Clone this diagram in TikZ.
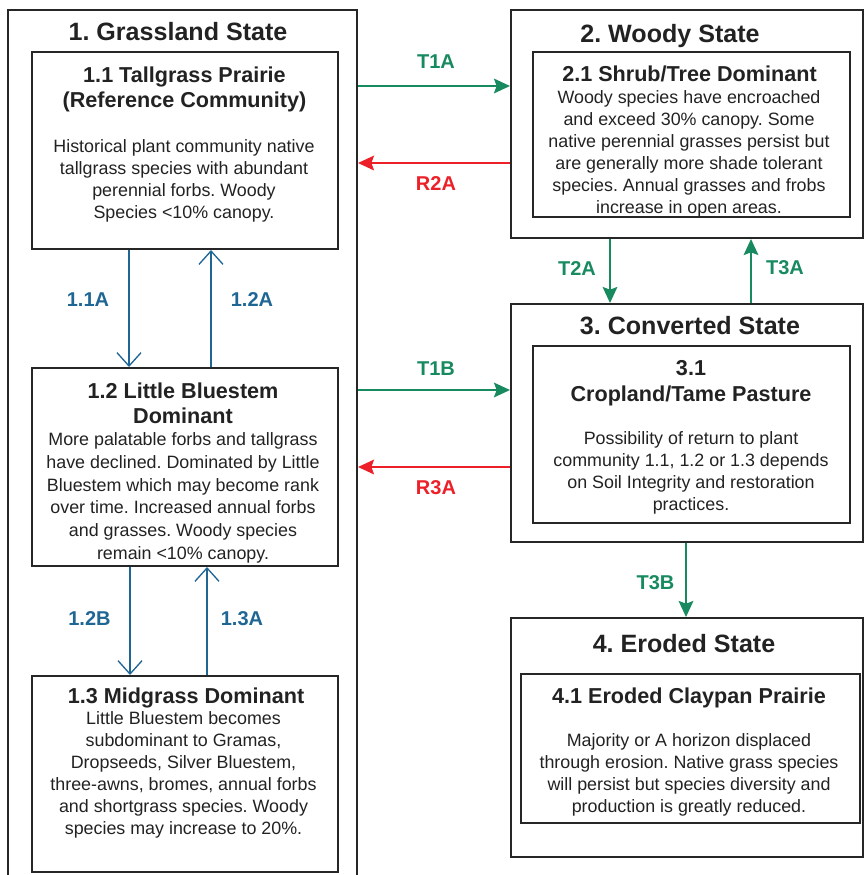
\documentclass[tikz,border=0pt]{standalone}
\usepackage{fontspec}
\setmainfont{Liberation Sans}
\usetikzlibrary{arrows.meta}
\frenchspacing

\definecolor{boxline}{RGB}{38,38,38}
\definecolor{ink}{RGB}{34,34,34}
\definecolor{trgreen}{RGB}{24,138,96}
\definecolor{rsred}{RGB}{236,32,40}
\definecolor{pwblue}{RGB}{31,102,148}

\begin{document}
\begin{tikzpicture}[x=0.75pt, y=-0.75pt,
    statebox/.style={draw=boxline, line width=1.5pt, inner sep=0pt},
    commbox/.style={draw=boxline, line width=1.5pt, inner sep=0pt},
    statetitle/.style={anchor=north, inner sep=0pt, text=ink, font=\bfseries\fontsize{18.8}{22}\selectfont},
    commhead/.style={anchor=north, inner sep=0pt, align=center, text=ink, font=\bfseries\fontsize{16.2}{19}\selectfont},
    commtext/.style={anchor=north, inner sep=0pt, align=center, text=ink, font=\fontsize{13.4}{16.5}\selectfont},
    tarrow/.style={draw=trgreen, line width=1.5pt, -{Stealth[length=12pt, width=11pt, inset=2pt]}},
    rarrow/.style={draw=rsred, line width=1.5pt, -{Stealth[length=12pt, width=11pt, inset=2pt]}},
    parrow/.style={draw=pwblue, line width=1pt, -{Straight Barb[length=10pt, width=18pt]}},
    tlabel/.style={text=trgreen, font=\bfseries\fontsize{15}{18}\selectfont},
    rlabel/.style={text=rsred, font=\bfseries\fontsize{15}{18}\selectfont},
    plabel/.style={text=pwblue, font=\bfseries\fontsize{15}{18}\selectfont}]
  \useasboundingbox (0,0) rectangle (865,875);

  % states
  \node[statebox, minimum width=261.75pt, minimum height=660pt] (s1) at (182.5,450) {};
  \node[statebox, minimum width=264pt, minimum height=171pt] (s2) at (687,124) {};
  \node[statebox, minimum width=264pt, minimum height=178.5pt] (s3) at (687,423) {};
  \node[statebox, minimum width=264pt, minimum height=179.25pt] (s4) at (687,737.5) {};

  % communities
  \node[commbox, minimum width=229.5pt, minimum height=147.75pt] (c11) at (185,150.5) {};
  \node[commbox, minimum width=229.5pt, minimum height=148.5pt] (c12) at (185,467) {};
  \node[commbox, minimum width=229.5pt, minimum height=147pt] (c13) at (185,774) {};
  \node[commbox, minimum width=237.75pt, minimum height=123.75pt] (c21) at (691.5,134.5) {};
  \node[commbox, minimum width=237.75pt, minimum height=132.75pt] (c31) at (691.5,434.5) {};
  \node[commbox, minimum width=254.25pt, minimum height=111.75pt] (c41) at (690.5,748.5) {};

  \node[statetitle] (t1) at (178,22.5) {1. Grassland State};
  \node[statetitle] (t2) at (670,24) {2. Woody State};
  \node[statetitle] (t3) at (690,316.5) {3. Converted State};
  \node[statetitle] (t4) at (684,634) {4. Eroded State};

  \node[commhead] (h11) at (184.5,66.5) {1.1 Tallgrass Prairie\\(Reference Community)};
  \node[commtext] (b11) at (184,139) {Historical plant community native\\tallgrass species with abundant\\perennial forbs. Woody\\Species <10\% canopy.};

  \node[commhead] (h12) at (183,382.5) {1.2 Little Bluestem\\Dominant};
  \node[commtext, font=\fontsize{13.4}{17}\selectfont] (b12) at (183,432.5) {More palatable forbs and tallgrass\\have declined. Dominated by Little\\Bluestem which may become rank\\over time. Increased annual forbs\\and grasses. Woody species\\remain <10\% canopy.};

  \node[commhead] (h13) at (186,688) {1.3 Midgrass Dominant};
  \node[commtext] (b13) at (183.5,711.5) {Little Bluestem becomes\\subdominant to Gramas,\\Dropseeds, Silver Bluestem,\\three-awns, bromes, annual forbs\\and shortgrass species. Woody\\species may increase to 20\%.};

  \node[commhead] (h21) at (689.5,65.5) {2.1 Shrub/Tree Dominant};
  \node[commtext] (b21) at (689,90.5) {Woody species have encroached\\and exceed 30\% canopy. Some\\native perennial grasses persist but\\are generally more shade tolerant\\species. Annual grasses and frobs\\increase in open areas.};

  \node[commhead] (h31) at (691,360.5) {3.1\\Cropland/Tame Pasture};
  \node[commtext] (b31) at (691,431.5) {Possibility of return to plant\\community 1.1, 1.2 or 1.3 depends\\on Soil Integrity and restoration\\practices.};

  \node[commhead] (h41) at (689,688) {4.1 Eroded Claypan Prairie};
  \node[commtext] (b41) at (689,733) {Majority or A horizon displaced\\through erosion. Native grass species\\will persist but species diversity and\\production is greatly reduced.};

  % transitions between states
  \draw[tarrow] (s1.east |- 0,86) -- (s2.west |- 0,86);
  \draw[rarrow] (s2.west |- 0,163) -- (s1.east |- 0,163);
  \draw[tarrow] (s1.east |- 0,390) -- (s3.west |- 0,390);
  \draw[rarrow] (s3.west |- 0,467) -- (s1.east |- 0,467);
  \draw[tarrow] (s2.south -| 610,0) -- (s3.north -| 610,0);
  \draw[tarrow] (s3.north -| 751,0) -- (s2.south -| 751,0);
  \draw[tarrow] (s3.south -| 686,0) -- (s4.north -| 686,0);

  \node[tlabel] (lt1a) at (436,62) {T1A};
  \node[rlabel] (lr2a) at (436,184) {R2A};
  \node[tlabel] (lt1b) at (436,369) {T1B};
  \node[rlabel] (lr3a) at (436,488) {R3A};
  \node[tlabel] (lt2a) at (577,269) {T2A};
  \node[tlabel] (lt3a) at (785,268) {T3A};
  \node[tlabel] (lt3b) at (655.5,583) {T3B};

  % community pathways
  \draw[parrow] (c11.south -| 129,0) -- (c12.north -| 129,0);
  \draw[parrow] (c12.north -| 211,0) -- (c11.south -| 211,0);
  \draw[parrow] (c12.south -| 130,0) -- (c13.north -| 130,0);
  \draw[parrow] (c13.north -| 207,0) -- (c12.south -| 207,0);

  \node[plabel] (l11a) at (88,300) {1.1A};
  \node[plabel] (l12a) at (252,300) {1.2A};
  \node[plabel] (l12b) at (89.5,619) {1.2B};
  \node[plabel] (l13a) at (242,619) {1.3A};
\end{tikzpicture}
\end{document}
